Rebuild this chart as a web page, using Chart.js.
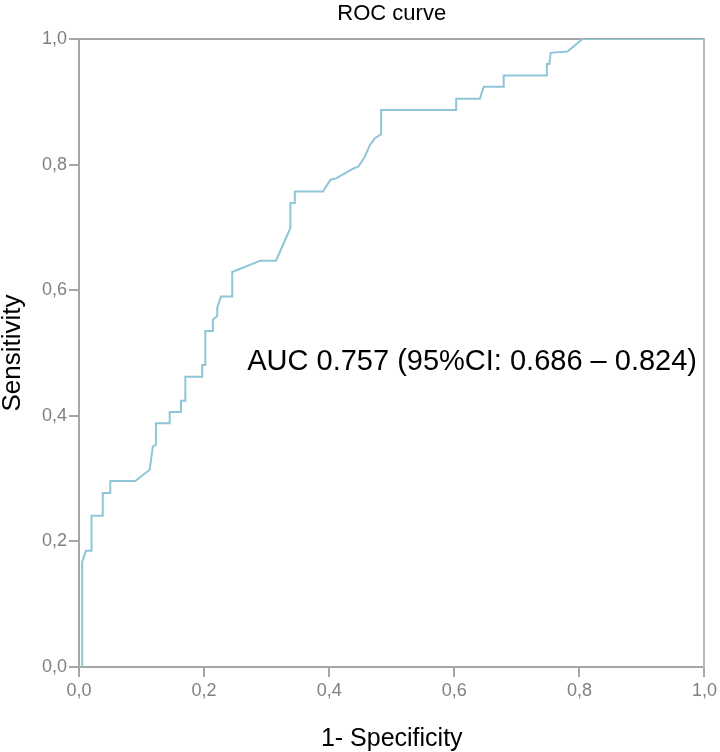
<!DOCTYPE html>
<html>
<head>
<meta charset="utf-8">
<script src="https://cdn.jsdelivr.net/npm/chart.js@4/dist/chart.umd.min.js"></script>
<style>
  html, body { margin: 0; padding: 0; background: #fff; }
  #wrap { width: 720px; height: 752px; }
</style>
</head>
<body>
<div id="wrap"><canvas id="rocChart" width="720" height="752"></canvas></div>
<script>
// ROC curve points: 1 - specificity / sensitivity
var falsePositiveRate = [0.005, 0.005, 0.011, 0.020, 0.020, 0.038, 0.038, 0.050, 0.050, 0.090,
  0.113, 0.118, 0.123, 0.123, 0.145, 0.145, 0.163, 0.163, 0.170, 0.170,
  0.197, 0.197, 0.202, 0.202, 0.214, 0.214, 0.221, 0.221, 0.227, 0.245,
  0.245, 0.290, 0.315, 0.338, 0.338, 0.345, 0.345, 0.390, 0.402, 0.411,
  0.439, 0.447, 0.457, 0.465, 0.473, 0.483, 0.483, 0.603, 0.603, 0.641,
  0.647, 0.679, 0.679, 0.748, 0.748, 0.752, 0.754, 0.781, 0.805, 1.000];
var truePositiveRate = [0.000, 0.167, 0.185, 0.185, 0.241, 0.241, 0.277, 0.277, 0.296, 0.296,
  0.314, 0.351, 0.354, 0.388, 0.388, 0.406, 0.406, 0.424, 0.424, 0.462,
  0.462, 0.481, 0.481, 0.535, 0.535, 0.553, 0.559, 0.572, 0.590, 0.590,
  0.629, 0.647, 0.647, 0.699, 0.739, 0.739, 0.757, 0.757, 0.776, 0.778,
  0.794, 0.797, 0.813, 0.831, 0.842, 0.848, 0.887, 0.887, 0.905, 0.905,
  0.924, 0.924, 0.942, 0.942, 0.960, 0.960, 0.978, 0.980, 1.000, 1.000];

var axisTicks = [0, 0.2, 0.4, 0.6, 0.8, 1.0];
var aucLabel = "AUC 0.757 (95%CI: 0.686 \u2013 0.824)";
var aucLabelAt = { x: 0.269, y: 0.485 };

var fontFamily = "'Liberation Sans', Arial, Helvetica, sans-serif";
var frameColor = "#a6a6a6";
var curveColor = "#8ec6d8";

var points = [];
for (var i = 0; i < falsePositiveRate.length; i += 1) {
  points.push({ x: falsePositiveRate[i], y: truePositiveRate[i] });
}

function commaTick(value) {
  return value.toFixed(1).replace(".", ",");
}

// writes the AUC note inside the plot, placed through the scales
var aucNote = {
  id: "aucNote",
  afterDatasetsDraw: function(chart) {
    var ctx = chart.ctx;
    var x = chart.scales.x.getPixelForValue(aucLabelAt.x);
    var y = chart.scales.y.getPixelForValue(aucLabelAt.y);
    ctx.save();
    ctx.font = "29px " + fontFamily;
    ctx.fillStyle = "#000";
    ctx.textAlign = "left";
    ctx.textBaseline = "middle";
    ctx.fillText(aucLabel, x, y);
    ctx.restore();
  }
};

var canvas = document.getElementById("rocChart");
var rocChart = new Chart(canvas, {
  type: "scatter",
  data: {
    datasets: [
      {
        label: "ROC",
        data: points,
        showLine: true,
        borderColor: curveColor,
        borderWidth: 2,
        pointRadius: 0,
        tension: 0,
        fill: false
      }
    ]
  },
  options: {
    responsive: false,
    animation: false,
    layout: { padding: { left: 0, right: 12, top: 0, bottom: 0 } },
    plugins: {
      legend: { display: false },
      tooltip: { enabled: false },
      title: {
        display: true,
        fullSize: false,
        text: "ROC curve",
        color: "#000",
        font: { family: fontFamily, size: 22, weight: "normal", lineHeight: 1.2 },
        padding: { top: 1, bottom: 11.6 }
      }
    },
    scales: {
      x: {
        type: "linear",
        position: "bottom",
        min: 0,
        max: 1,
        afterBuildTicks: function(scale) {
          scale.ticks = axisTicks.map(function(v) { return { value: v }; });
        },
        afterFit: function(scale) { scale.height = 85; },
        ticks: {
          color: "#808080",
          padding: 3,
          font: { family: fontFamily, size: 18 },
          callback: function(value) { return commaTick(value); }
        },
        grid: { drawOnChartArea: false, drawTicks: true, tickLength: 10, color: frameColor, lineWidth: 2 },
        border: { display: true, color: frameColor, width: 2 },
        title: {
          display: true,
          text: "1- Specificity",
          color: "#000",
          font: { family: fontFamily, size: 25, lineHeight: 1 },
          padding: { top: 0, bottom: 0 }
        }
      },
      y: {
        type: "linear",
        position: "left",
        min: 0,
        max: 1,
        afterBuildTicks: function(scale) {
          scale.ticks = axisTicks.map(function(v) { return { value: v }; });
        },
        afterFit: function(scale) { scale.width = 79; },
        ticks: {
          color: "#808080",
          padding: 2,
          font: { family: fontFamily, size: 18 },
          callback: function(value) { return commaTick(value); }
        },
        grid: { drawOnChartArea: false, drawTicks: true, tickLength: 10, color: frameColor, lineWidth: 2 },
        border: { display: true, color: frameColor, width: 2 },
        title: {
          display: true,
          text: "Sensitivity",
          color: "#000",
          font: { family: fontFamily, size: 26, lineHeight: 1 },
          padding: { top: 0, bottom: 0 }
        }
      },
      xTop: {
        type: "linear",
        position: "top",
        min: 0,
        max: 1,
        afterFit: function(scale) { scale.height = 0; },
        ticks: { display: false },
        grid: { display: false },
        border: { display: true, color: frameColor, width: 2 }
      },
      yRight: {
        type: "linear",
        position: "right",
        min: 0,
        max: 1,
        afterFit: function(scale) { scale.width = 0; },
        ticks: { display: false },
        grid: { display: false },
        border: { display: true, color: "#b8b8b8", width: 2 }
      }
    }
  },
  plugins: [aucNote]
});
</script>
</body>
</html>
